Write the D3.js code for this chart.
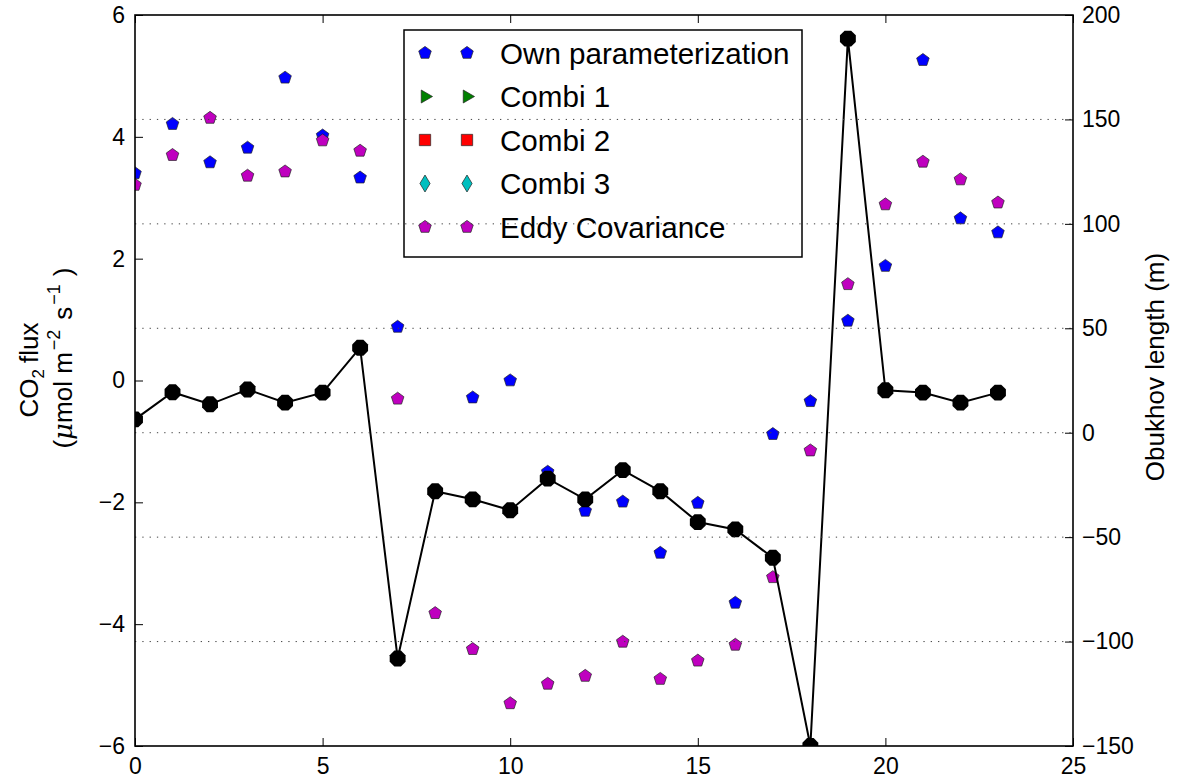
<!DOCTYPE html>
<html>
<head>
<meta charset="utf-8">
<script src="https://cdn.jsdelivr.net/npm/d3@7.9.0/dist/d3.min.js"></script>
<style>
  body { margin: 0; background: #fff; }
  svg { font-family: "Liberation Sans", Arial, sans-serif; }
</style>
</head>
<body>
<svg id="chart" width="1183" height="780"></svg>
<script>
// hour of day on the x axis
const hours = [0, 1, 2, 3, 4, 5, 6, 7, 8, 9, 10, 11, 12, 13, 14, 15, 16, 17, 18, 19, 20, 21, 22, 23];

// CO2 flux (left axis)
const ownParam = [3.40, 4.21, 3.58, 3.82, 4.97, 4.02, 3.33, 0.88, null, -0.28, 0.00, -1.50,
                  -2.14, -1.99, -2.83, -2.01, -3.65, -0.88, -0.34, 0.98, 1.88, 5.26, 2.66, 2.43];
const combi1 = [];
const combi2 = [];
const combi3 = [];
const eddyCov = [3.21, 3.70, 4.31, 3.36, 3.43, 3.94, 3.77, -0.30, -3.82, -4.41, -5.30, -4.98,
                 -4.85, -4.29, -4.90, -4.60, -4.34, -3.23, -1.15, 1.58, 2.89, 3.59, 3.30, 2.92];

// Obukhov length (right axis)
const obukhov = [6.4, 19.4, 13.6, 20.7, 14.4, 19.2, 40.7, -108.1, -28.0, -31.9, -37.1, -22.0,
                 -31.9, -17.9, -28.0, -42.8, -46.3, -59.9, -150, 188.7, 20.3, 19.2, 14.4, 19.2];

const legendLabels = ['Own parameterization', 'Combi 1', 'Combi 2', 'Combi 3', 'Eddy Covariance'];

const xTicks = [0, 5, 10, 15, 20, 25];
const yLeftTicks = [-6, -4, -2, 0, 2, 4, 6];
const yRightTicks = [-150, -100, -50, 0, 50, 100, 150, 200];

// marker shapes
function polygon(n, r, rot = 0, sx = 1) {
  const pts = d3.range(n).map(k => {
    const a = rot + k * 2 * Math.PI / n;
    return [sx * r * Math.sin(a), -r * Math.cos(a)];
  });
  return 'M' + pts.map(p => p.join(',')).join('L') + 'Z';
}
const shapes = {
  pentagon: polygon(5, 6.6),
  triRight: polygon(3, 7.5, Math.PI / 2),
  square: polygon(4, 8, Math.PI / 4),
  thinDiamond: polygon(4, 8.5, 0, 0.6),
  octagon: polygon(8, 8.6, Math.PI / 8)
};

const series = [
  { label: legendLabels[0], values: ownParam, color: '#0000ff', shape: shapes.pentagon },
  { label: legendLabels[1], values: combi1, color: '#008000', shape: shapes.triRight },
  { label: legendLabels[2], values: combi2, color: '#ff0000', shape: shapes.square },
  { label: legendLabels[3], values: combi3, color: '#00bfbf', shape: shapes.thinDiamond },
  { label: legendLabels[4], values: eddyCov, color: '#bf00bf', shape: shapes.pentagon }
];

const plot = { left: 135, right: 1073, top: 15, bottom: 746 };
const x = d3.scaleLinear().domain([0, 25]).range([plot.left, plot.right]);
const yL = d3.scaleLinear().domain([-6, 6]).range([plot.bottom, plot.top]);
const yR = d3.scaleLinear().domain([-150, 200]).range([plot.bottom, plot.top]);

const svg = d3.select('#chart');

svg.append('clipPath').attr('id', 'clip')
  .append('rect')
  .attr('x', plot.left).attr('y', plot.top)
  .attr('width', plot.right - plot.left).attr('height', plot.bottom - plot.top);

const body = svg.append('g').attr('clip-path', 'url(#clip)');

// 1. scatter series on the left axis
series.forEach(s => {
  body.append('g').selectAll('path')
    .data(s.values.map((v, i) => [hours[i], v]).filter(d => d[1] != null))
    .join('path')
    .attr('d', s.shape)
    .attr('transform', d => `translate(${x(d[0])},${yL(d[1])})`)
    .attr('fill', s.color)
    .attr('stroke', '#222')
    .attr('stroke-width', 0.7);
});

// 2. legend of the left axes
const legend = svg.append('g');
legend.append('rect')
  .attr('x', 404).attr('y', 30).attr('width', 398).attr('height', 227)
  .attr('fill', '#fff').attr('stroke', '#000').attr('stroke-width', 1.5);
series.forEach((s, i) => {
  const cy = 53 + i * 43.5;
  [425, 467].forEach(mx => {
    legend.append('path')
      .attr('d', s.shape)
      .attr('transform', `translate(${mx},${cy})`)
      .attr('fill', s.color)
      .attr('stroke', '#222')
      .attr('stroke-width', 0.7);
  });
  legend.append('text')
    .attr('x', 500).attr('y', cy).attr('dy', '0.36em')
    .attr('font-size', 29.6).attr('fill', '#000')
    .text(s.label);
});

// 3. grid of the right axis, drawn above the legend
svg.append('g').selectAll('line')
  .data(yRightTicks.filter(t => t > -150 && t < 200))
  .join('line')
  .attr('x1', plot.left).attr('x2', plot.right)
  .attr('y1', d => yR(d)).attr('y2', d => yR(d))
  .attr('stroke', '#444').attr('stroke-width', 1)
  .attr('stroke-dasharray', '1.3,6');

// 4. Obukhov length line
const line = d3.line().x((d, i) => x(hours[i])).y(d => yR(d));
body.append('path')
  .datum(obukhov)
  .attr('d', line)
  .attr('fill', 'none').attr('stroke', '#000').attr('stroke-width', 2);
body.append('g').selectAll('path')
  .data(obukhov)
  .join('path')
  .attr('d', shapes.octagon)
  .attr('transform', (d, i) => `translate(${x(hours[i])},${yR(d)})`)
  .attr('fill', '#000');

// 5. axes (ticks point inward)
function styleAxis(g) {
  g.select('.domain').remove();
  g.selectAll('.tick line').attr('stroke', '#000').attr('stroke-width', 1);
  g.selectAll('.tick text').attr('font-size', 23).attr('fill', '#000')
    .attr('font-family', '"Liberation Sans", Arial, sans-serif');
}
svg.append('g').attr('transform', `translate(0,${plot.bottom})`)
  .call(d3.axisBottom(x).tickValues(xTicks).tickSizeInner(-8).tickSizeOuter(0).tickPadding(12))
  .call(styleAxis);
svg.append('g').attr('transform', `translate(0,${plot.top})`)
  .call(d3.axisTop(x).tickValues(xTicks).tickSizeInner(-8).tickSizeOuter(0).tickFormat(''))
  .call(styleAxis);
svg.append('g').attr('transform', `translate(${plot.left},0)`)
  .call(d3.axisLeft(yL).tickValues(yLeftTicks).tickSizeInner(-8).tickSizeOuter(0).tickPadding(10))
  .call(styleAxis);
svg.append('g').attr('transform', `translate(${plot.right},0)`)
  .call(d3.axisRight(yR).tickValues(yRightTicks).tickSizeInner(-8).tickSizeOuter(0).tickPadding(9))
  .call(styleAxis);

svg.append('rect')
  .attr('x', plot.left).attr('y', plot.top)
  .attr('width', plot.right - plot.left).attr('height', plot.bottom - plot.top)
  .attr('fill', 'none').attr('stroke', '#000').attr('stroke-width', 1.6);

// 6. axis labels
const lbl1 = svg.append('text')
  .attr('transform', 'translate(38,370) rotate(-90)')
  .attr('text-anchor', 'middle').attr('font-size', 26);
lbl1.append('tspan').text('CO');
lbl1.append('tspan').attr('font-size', 17).attr('dy', 6).text('2');
lbl1.append('tspan').attr('dy', -6).attr('dx', 6).text('flux');

const lbl2 = svg.append('text')
  .attr('transform', 'translate(72,358) rotate(-90)')
  .attr('text-anchor', 'middle').attr('font-size', 26);
lbl2.append('tspan').text('(');
lbl2.append('tspan').attr('font-style', 'italic').attr('font-family', '"DejaVu Serif", serif').text('μ');
lbl2.append('tspan').text('mol m');
lbl2.append('tspan').attr('font-size', 18).attr('dy', -12).attr('dx', 2).text('−2');
lbl2.append('tspan').attr('dy', 12).attr('dx', 10).text('s');
lbl2.append('tspan').attr('font-size', 18).attr('dy', -12).attr('dx', 2).text('−1');
lbl2.append('tspan').attr('dy', 12).attr('dx', 8).text(')');

svg.append('text')
  .attr('transform', 'translate(1164,367) rotate(-90)')
  .attr('text-anchor', 'middle').attr('font-size', 26)
  .text('Obukhov length (m)');
</script>
</body>
</html>
